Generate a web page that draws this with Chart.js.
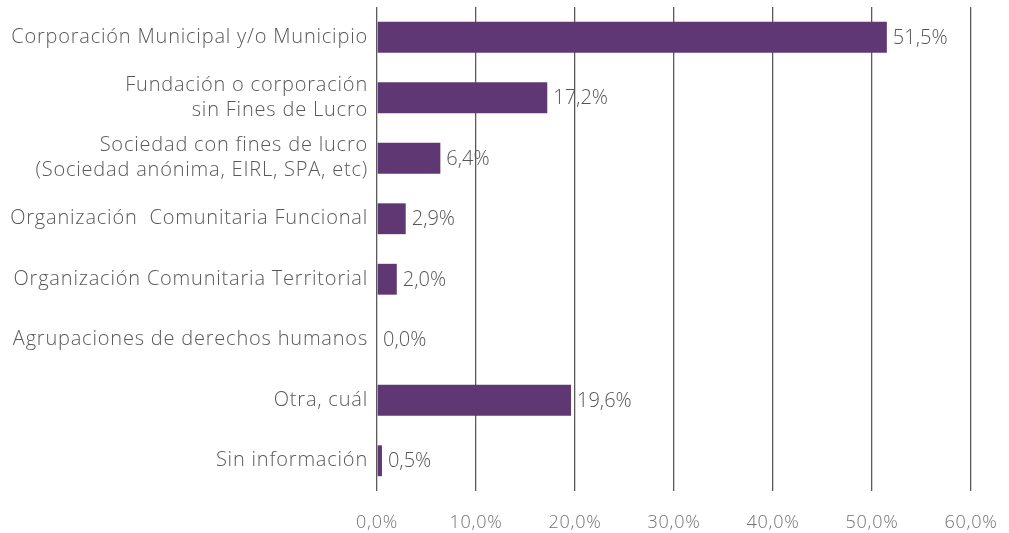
<!DOCTYPE html>
<html>
<head>
<meta charset="utf-8">
<script src="https://cdn.jsdelivr.net/npm/chart.js@4/dist/chart.umd.min.js"></script>
<style>
  html, body { margin: 0; padding: 0; background: #fff; }
  #wrap { width: 1009px; height: 533px; }
</style>
</head>
<body>
<div id="wrap"><canvas id="chart"></canvas></div>
<script>
// Data
const categories = [
    "Corporación Municipal y/o Municipio",
    ["Fundación o corporación", "sin Fines de Lucro"],
    ["Sociedad con fines de lucro", "(Sociedad anónima, EIRL, SPA, etc)"],
    "Organización  Comunitaria Funcional",
    "Organización Comunitaria Territorial",
    "Agrupaciones de derechos humanos",
    "Otra, cuál",
    "Sin información"
];
const values = [51.5, 17.2, 6.4, 2.9, 2.0, 0.0, 19.6, 0.5];
const xTicks = [0, 10, 20, 30, 40, 50, 60];

const fontFamily = "'Open Sans', Lato, sans-serif";

function fmt(v) {
    return v.toFixed(1).replace('.', ',') + '%';
}

// wider letter spacing for the axis texts (reference font is wide)
const spacing = {
    id: 'spacing',
    beforeDraw(chart) { chart.ctx.letterSpacing = '0.8px'; },
    afterDraw(chart) { chart.ctx.letterSpacing = '0px'; }
};

// Simple value labels next to each bar
const valueLabels = {
    id: 'valueLabels',
    afterDatasetsDraw(chart) {
        const ctx = chart.ctx;
        const meta = chart.getDatasetMeta(0);
        ctx.save();
        ctx.letterSpacing = '0px';
        ctx.font = "300 20px " + fontFamily;
        ctx.fillStyle = '#555555';
        ctx.textBaseline = 'middle';
        ctx.textAlign = 'left';
        meta.data.forEach((bar, i) => {
            ctx.fillText(fmt(values[i]), bar.x + 6, bar.y + 1);
        });
        ctx.restore();
    }
};

new Chart(document.getElementById('chart'), {
    type: 'bar',
    data: {
        labels: categories,
        datasets: [{
            data: values,
            backgroundColor: '#5f3873',
            barPercentage: 0.51,
            categoryPercentage: 1.0
        }]
    },
    options: {
        indexAxis: 'y',
        responsive: true,
        maintainAspectRatio: false,
        animation: false,
        layout: { padding: { top: 7, right: 38, left: 0, bottom: 0 } },
        plugins: {
            legend: { display: false },
            tooltip: { enabled: false }
        },
        scales: {
            x: {
                min: 0,
                max: 60,
                afterBuildTicks(scale) {
                    scale.ticks = xTicks.map(v => ({ value: v }));
                },
                afterFit(scale) {
                    scale.height = 42;
                    scale.paddingLeft = 0;
                    scale.paddingRight = 0;
                },
                grid: {
                    color: '#5a5a5a',
                    lineWidth: 1.3,
                    drawTicks: false
                },
                border: { display: false },
                ticks: {
                    padding: 21,
                    color: '#727272',
                    font: { family: fontFamily, size: 18, weight: 300 },
                    callback: v => fmt(v)
                }
            },
            y: {
                afterFit(scale) {
                    scale.width = 377;
                    scale.paddingTop = 0;
                    scale.paddingBottom = 0;
                },
                grid: { display: false, drawTicks: false },
                border: { display: false },
                ticks: {
                    padding: 9,
                    color: '#595959',
                    font: { family: fontFamily, size: 20, weight: 300, lineHeight: 1.25 }
                }
            }
        }
    },
    plugins: [spacing, valueLabels]
});
</script>
</body>
</html>
